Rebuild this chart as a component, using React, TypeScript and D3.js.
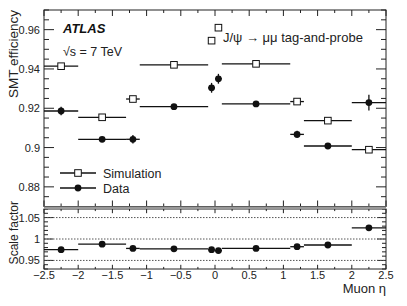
import React from 'react'
import * as d3 from 'd3'

// bins in muon eta
const binLo = [-2.5, -2.0, -1.3, -1.1, -0.1, 0.0, 0.1, 1.1, 1.3, 2.0]
const binHi = [-2.0, -1.3, -1.1, -0.1, 0.0, 0.1, 1.1, 1.3, 2.0, 2.5]
const binCenter = [-2.25, -1.65, -1.2, -0.6, -0.05, 0.05, 0.6, 1.2, 1.65, 2.25]

const simEff = [0.9414, 0.9154, 0.9247, 0.9421, 0.9544, 0.961, 0.9426, 0.9234, 0.9137, 0.8989]
const dataEff = [0.9186, 0.9042, 0.9042, 0.9208, 0.9304, 0.935, 0.9222, 0.9067, 0.9008, 0.9229]
const dataErr = [0.0022, 0.0012, 0.0022, 0.0008, 0.0025, 0.0025, 0.0008, 0.0018, 0.0012, 0.004]
const scaleFactor = [0.975, 0.988, 0.978, 0.977, 0.975, 0.973, 0.978, 0.982, 0.986, 1.026]

const xTicks = [-2.5, -2, -1.5, -1, -0.5, 0, 0.5, 1, 1.5, 2, 2.5]
const topYTicks = [0.88, 0.9, 0.92, 0.94, 0.96]
const botYTicks = [0.95, 1, 1.05]

const FONT = '"Liberation Sans", Arial, Helvetica, sans-serif'

const fmt = (v: number) => {
  const s = String(+v.toFixed(3))
  return v < 0 ? '\u2212' + s.slice(1) : s
}

export default function App () {
  const left = 44
  const right = 386
  const topT = 10
  const topB = 206.5
  const botT = 209
  const botB = 269

  const x = d3.scaleLinear().domain([-2.5, 2.5]).range([left, right])
  const yTop = d3.scaleLinear().domain([0.87, 0.97]).range([topB, topT])
  const yBot = d3.scaleLinear().domain([0.93, 1.07]).range([botB, botT])

  const xMinor = d3.range(-2.5, 2.5001, 0.25)
  const topMinor = d3.range(0.87, 0.9701, 0.005)
  const botMinor = d3.range(0.93, 1.0701, 0.01)
  const isMajor = (v: number, step: number) => Math.abs(v / step - Math.round(v / step)) < 1e-6

  const sw = 1.3

  return (
    <svg width={407} height={306} style={{ position: 'absolute', left: 0, top: 0, fontFamily: FONT }}>
      <rect width={407} height={306} fill='white' />

      {/* ticks on both panels */}
      {xMinor.map((v, i) => {
        const len = isMajor(v, 0.5) ? 6 : 3
        return (
          <g key={'xt' + i} stroke='#222' strokeWidth={1}>
            <line x1={x(v)} x2={x(v)} y1={topB} y2={topB - len} />
            <line x1={x(v)} x2={x(v)} y1={topT} y2={topT + len} />
            <line x1={x(v)} x2={x(v)} y1={botB} y2={botB - len * 0.7} />
            <line x1={x(v)} x2={x(v)} y1={botT} y2={botT + len * 0.7} />
          </g>
        )
      })}
      {topMinor.map((v, i) => {
        const len = isMajor(v, 0.02) ? 10 : 5
        return (
          <g key={'yt' + i} stroke='#222' strokeWidth={1}>
            <line x1={left} x2={left + len} y1={yTop(v)} y2={yTop(v)} />
            <line x1={right} x2={right - len} y1={yTop(v)} y2={yTop(v)} />
          </g>
        )
      })}
      {botMinor.map((v, i) => {
        const len = isMajor(v, 0.05) ? 9 : 4
        return (
          <g key={'yb' + i} stroke='#222' strokeWidth={1}>
            <line x1={left} x2={left + len} y1={yBot(v)} y2={yBot(v)} />
            <line x1={right} x2={right - len} y1={yBot(v)} y2={yBot(v)} />
          </g>
        )
      })}

      {/* dotted reference lines */}
      {botYTicks.map((v) => (
        <line key={'dl' + v} x1={left} x2={right} y1={yBot(v)} y2={yBot(v)}
          stroke='#555' strokeWidth={1} strokeDasharray='1.5,1.5' />
      ))}

      {/* frames */}
      <rect x={left} y={topT} width={right - left} height={topB - topT} fill='none' stroke='#222' strokeWidth={1} />
      <rect x={left} y={botT} width={right - left} height={botB - botT} fill='none' stroke='#222' strokeWidth={1} />
      <rect x={left} y={topB} width={right - left} height={botT - topB} fill='#999' />

      {/* tick labels */}
      {xTicks.map((v) => (
        <text key={'xl' + v} x={x(v)} y={279} fontSize={11} textAnchor='middle' fill='#222'>{fmt(v)}</text>
      ))}
      {topYTicks.map((v) => (
        <text key={'tl' + v} x={40} y={yTop(v) + 4} fontSize={11} textAnchor='end' fill='#222'>{fmt(v)}</text>
      ))}
      {botYTicks.map((v) => (
        <text key={'bl' + v} x={40} y={yBot(v) + 4} fontSize={11} textAnchor='end' fill='#222'>{fmt(v)}</text>
      ))}

      {/* axis titles */}
      <text transform='translate(18,10) rotate(-90)' fontSize={13.5} textAnchor='end' fill='#222'>SMT efficiency</text>
      <text transform='translate(18,201) rotate(-90)' fontSize={12} textAnchor='end' fill='#222'>Scale factor</text>
      <text x={right} y={293} fontSize={13} textAnchor='end' fill='#222'>Muon η</text>

      {/* simulation */}
      {simEff.map((v, i) => (
        <g key={'s' + i}>
          <line x1={x(binLo[i])} x2={x(binHi[i])} y1={yTop(v)} y2={yTop(v)} stroke='#111' strokeWidth={sw} />
          <rect x={x(binCenter[i]) - 3.3} y={yTop(v) - 3.3} width={6.6} height={6.6} fill='white' stroke='#111' strokeWidth={1} />
        </g>
      ))}

      {/* data */}
      {dataEff.map((v, i) => (
        <g key={'d' + i}>
          <line x1={x(binLo[i])} x2={x(binHi[i])} y1={yTop(v)} y2={yTop(v)} stroke='#111' strokeWidth={sw} />
          <line x1={x(binCenter[i])} x2={x(binCenter[i])} y1={yTop(v - dataErr[i])} y2={yTop(v + dataErr[i])} stroke='#111' strokeWidth={sw} />
          <circle cx={x(binCenter[i])} cy={yTop(v)} r={3.4} fill='#111' />
        </g>
      ))}

      {/* scale factor */}
      {scaleFactor.map((v, i) => (
        <g key={'sf' + i}>
          <line x1={x(binLo[i])} x2={x(binHi[i])} y1={yBot(v)} y2={yBot(v)} stroke='#111' strokeWidth={sw} />
          <circle cx={x(binCenter[i])} cy={yBot(v)} r={3.4} fill='#111' />
        </g>
      ))}

      {/* labels */}
      <text x={63} y={33} fontSize={13} fontWeight='bold' fontStyle='italic' fill='#111'>ATLAS</text>
      <text x={63} y={56} fontSize={12.5} fill='#222'>√s = 7 TeV</text>
      <text x={223} y={42} fontSize={13} fill='#222'>J/ψ → μμ tag-and-probe</text>

      {/* legend */}
      <g>
        <line x1={60} x2={96} y1={173} y2={173} stroke='#111' strokeWidth={sw} />
        <rect x={78 - 3.3} y={173 - 3.3} width={6.6} height={6.6} fill='white' stroke='#111' strokeWidth={1} />
        <text x={103} y={177.5} fontSize={12.5} fill='#222'>Simulation</text>
        <line x1={60} x2={96} y1={188} y2={188} stroke='#111' strokeWidth={sw} />
        <circle cx={78} cy={188} r={3.4} fill='#111' />
        <text x={103} y={192.5} fontSize={12.5} fill='#222'>Data</text>
      </g>
    </svg>
  )
}
